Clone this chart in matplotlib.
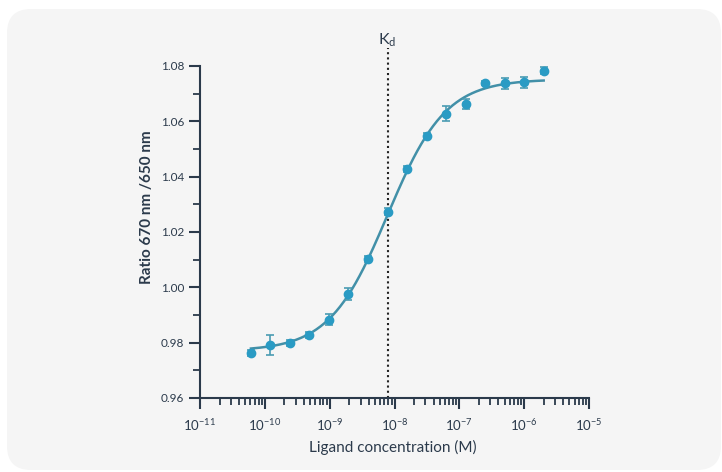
"""
Binding curve: emission ratio vs ligand concentration, with a Hill fit and Kd marker.
"""

import numpy as np
import matplotlib.pyplot as plt
from matplotlib.patches import FancyBboxPatch

# measured points (2-fold dilution series)
conc = [6.1e-11, 1.22e-10, 2.44e-10, 4.88e-10, 9.77e-10, 1.95e-9, 3.91e-9,
        7.81e-9, 1.56e-8, 3.13e-8, 6.25e-8, 1.25e-7, 2.5e-7, 5e-7, 1e-6, 2e-6]
ratio = [0.9763, 0.9793, 0.9799, 0.9828, 0.9883, 0.9977, 1.0102, 1.0273,
         1.0427, 1.0547, 1.0627, 1.0663, 1.0738, 1.0738, 1.0742, 1.0783]
ratio_err = [0.0010, 0.0036, 0.0010, 0.0010, 0.0020, 0.0022, 0.0010, 0.0012,
             0.0010, 0.0010, 0.0027, 0.0017, 0.0008, 0.0020, 0.0020, 0.0012]

# fitted Hill parameters
fit_bottom = 0.977
fit_top = 1.0752
kd = 7.8e-9
hill = 0.97

x_ticks = [1e-11, 1e-10, 1e-9, 1e-8, 1e-7, 1e-6, 1e-5]
x_tick_labels = [r'$\mathregular{10^{-11}}$', r'$\mathregular{10^{-10}}$',
                 r'$\mathregular{10^{-9}}$', r'$\mathregular{10^{-8}}$',
                 r'$\mathregular{10^{-7}}$', r'$\mathregular{10^{-6}}$',
                 r'$\mathregular{10^{-5}}$']
y_ticks = [0.96, 0.98, 1.00, 1.02, 1.04, 1.06, 1.08]

ink = '#2b3a4b'
point_color = '#2a9bc4'
line_color = '#4290a8'

plt.rcParams['font.family'] = ['Lato', 'DejaVu Sans']
plt.rcParams['mathtext.fontset'] = 'custom'
plt.rcParams['mathtext.rm'] = 'Lato'

fig = plt.figure(figsize=(7.22, 4.72), dpi=100)
fig.patch.set_facecolor('white')
card = FancyBboxPatch((0.07, 0.02), 7.14, 4.61,
                      boxstyle='round,pad=0,rounding_size=0.24',
                      transform=fig.dpi_scale_trans, facecolor='#f5f5f5',
                      edgecolor='none', zorder=-10)
fig.patches.append(card)

ax = fig.add_axes([200 / 722, 1 - 398 / 472, 389 / 722, 332 / 472])
ax.set_facecolor('none')
ax.set_zorder(1)

xs = np.logspace(np.log10(conc[0]), np.log10(conc[-1]), 300)
curve = fit_bottom + (fit_top - fit_bottom) / (1 + (kd / xs) ** hill)
ax.plot(xs, curve, color=line_color, lw=1.8, zorder=2)

ax.errorbar(conc, ratio, yerr=ratio_err, fmt='o', ms=6, color=point_color,
            ecolor='#4a9bb2', elinewidth=1.2, capsize=3, capthick=1.2,
            zorder=3)

ax.plot([kd, kd], [0.96, 1.0865], ls=(0, (1, 1.5)), color='#222222',
        lw=1.5, clip_on=False, zorder=1)
ax.text(kd, 1.0895, r'K$_\mathregular{d}$', ha='center', va='center',
        fontsize=11.5, color=ink, clip_on=False)

ax.set_xscale('log')
ax.set_xlim(1e-11, 1e-5)
ax.set_ylim(0.96, 1.08)
ax.set_xticks(x_ticks)
ax.set_xticklabels(x_tick_labels)
ax.set_yticks(y_ticks)
ax.set_yticklabels([f'{v:.2f}' for v in y_ticks])
ax.set_yticks(np.arange(0.97, 1.08, 0.02), minor=True)

for side in ['top', 'right']:
    ax.spines[side].set_visible(False)
for side in ['left', 'bottom']:
    ax.spines[side].set_color(ink)
    ax.spines[side].set_linewidth(1.5)
ax.tick_params(which='major', direction='out', length=8, width=1.5,
               color=ink, labelcolor=ink, labelsize=8.5)
ax.tick_params(which='minor', direction='out', length=5, width=1.3,
               color=ink)
ax.tick_params(axis='x', pad=6, labelsize=9.5)

fig.text(147 / 722, 1 - 207 / 472, 'Ratio 670 nm /650 nm', rotation=90,
         ha='center', va='center', fontsize=11, fontweight='bold', color=ink)
fig.text(393 / 722, 1 - 447 / 472, 'Ligand concentration (M)', ha='center',
         va='center', fontsize=11, color=ink)

fig.savefig('out.png', dpi=100)
